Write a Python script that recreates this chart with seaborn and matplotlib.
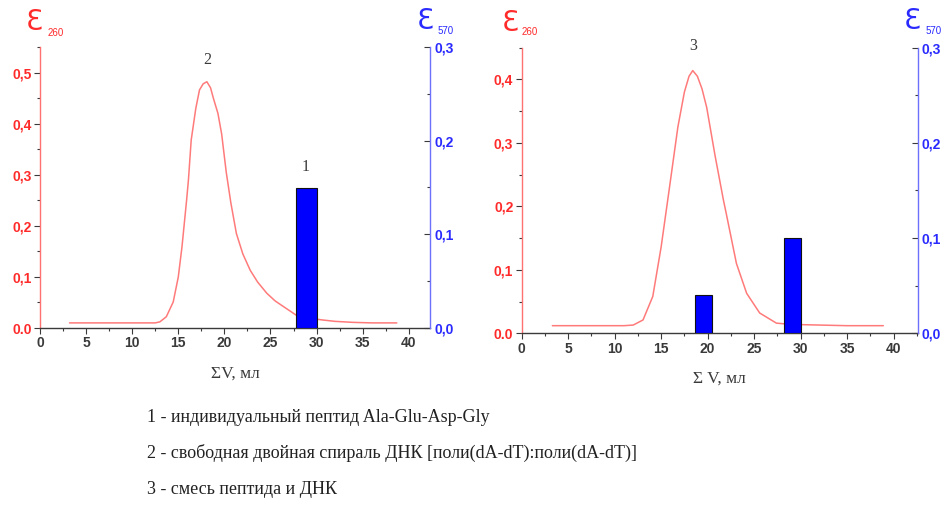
import numpy as np
import pandas as pd
import matplotlib
matplotlib.use("Agg")
import matplotlib.pyplot as plt
import seaborn as sns
from matplotlib.ticker import MultipleLocator, FixedLocator, FixedFormatter

# ---------------- data ----------------
# Panel A: free DNA double helix (curve 2) and individual peptide (bar 1)
vol_a = [3.2, 10.0, 12.5, 13.0, 13.7, 14.45, 15.0, 15.4, 15.9, 16.1, 16.4, 16.9,
         17.3, 17.7, 18.1, 18.5, 18.8, 19.3, 19.7, 20.2, 20.7, 21.3, 22.0, 22.8,
         23.6, 24.6, 25.5, 26.4, 27.8, 29.0, 30.5, 32.0, 34.0, 36.0, 38.7]
e260_a = [0.010, 0.010, 0.010, 0.012, 0.022, 0.051, 0.100, 0.159, 0.250, 0.290,
          0.368, 0.430, 0.466, 0.478, 0.482, 0.470, 0.450, 0.420, 0.380, 0.305,
          0.245, 0.185, 0.145, 0.113, 0.090, 0.068, 0.053, 0.042, 0.025, 0.020,
          0.016, 0.013, 0.011, 0.010, 0.010]
bar_vol_a = [28.9]
bar_e570_a = [0.15]

# Panel B: mixture of peptide and DNA (curve 3) with two peptide fractions
vol_b = [3.3, 10.0, 11.0, 12.0, 13.05, 14.1, 15.0, 15.9, 16.8, 17.5, 18.0, 18.4,
         18.9, 19.4, 19.9, 20.8, 21.7, 22.0, 23.1, 24.2, 25.6, 27.4, 29.0, 32.0,
         35.0, 38.9]
e260_b = [0.012, 0.012, 0.012, 0.013, 0.021, 0.058, 0.136, 0.230, 0.325, 0.380,
          0.405, 0.414, 0.405, 0.385, 0.356, 0.280, 0.210, 0.189, 0.110, 0.063,
          0.032, 0.016, 0.014, 0.013, 0.012, 0.012]
bar_vol_b = [19.55, 29.1]
bar_e570_b = [0.04, 0.10]

x_ticks = [0, 5, 10, 15, 20, 25, 30, 35, 40]
captions = [
    "1 - индивидуальный пептид Ala-Glu-Asp-Gly",
    "2 - свободная двойная спираль ДНК [поли(dA-dT):поли(dA-dT)]",
    "3 - смесь пептида и ДНК",
]

# ---------------- style ----------------
sns.set_theme(style="white")
plt.rcParams["font.family"] = ["Liberation Sans", "DejaVu Sans"]

W, H = 947, 514
fig = plt.figure(figsize=(W / 100, H / 100), dpi=100)


def px(x, y):
    return x / W, 1 - y / H


RED_LINE = "#ff7a7a"
RED_TXT = "#ff2a2a"
RED_SPINE = "#ff7070"
BLUE_TXT = "#2a2aff"
BLUE_SPINE = "#7070ff"
GRAY = "#3a3a3a"
TICKSIZE = 10


def fmt(v, zero_dot=False):
    s = f"{v:.1f}"
    if zero_dot and abs(v) < 1e-9:
        return s
    return s.replace(".", ",")


def make_panel(rect, vol, e260, bvol, be570, bwidth, ylim_left, left_ticks,
               xmax, xlabel):
    ax = fig.add_axes(rect)
    df = pd.DataFrame({"V": vol, "E260": e260})
    sns.lineplot(data=df, x="V", y="E260", ax=ax, color=RED_LINE, lw=1.1)
    ax.set_xlim(0, xmax)
    ax.set_ylim(0, ylim_left)
    ax.set_ylabel("")
    ax.set_xlabel(xlabel, family=["Liberation Serif"], fontsize=12.5,
                  color=GRAY, labelpad=11)
    ax.xaxis.set_major_locator(FixedLocator(x_ticks))
    ax.xaxis.set_minor_locator(MultipleLocator(2.5))
    ax.yaxis.set_major_locator(FixedLocator(left_ticks))
    ax.yaxis.set_major_formatter(
        FixedFormatter([fmt(v, zero_dot=True) for v in left_ticks]))
    ax.yaxis.set_minor_locator(MultipleLocator(0.05))
    for s in ["top", "right"]:
        ax.spines[s].set_visible(False)
    ax.spines["left"].set_color(RED_SPINE)
    ax.spines["bottom"].set_color(GRAY)
    ax.spines["left"].set_linewidth(1.0)
    ax.spines["bottom"].set_linewidth(1.0)
    ax.tick_params(axis="x", which="major", direction="out", length=4,
                   width=0.8, color=GRAY, labelsize=TICKSIZE, labelcolor=GRAY,
                   pad=2, bottom=True)
    ax.tick_params(axis="x", which="minor", direction="out", length=2.5,
                   width=0.8, color=GRAY, bottom=True)
    ax.tick_params(axis="y", which="major", direction="out", length=4,
                   width=0.8, color=GRAY, labelsize=TICKSIZE,
                   labelcolor=RED_TXT, pad=2, left=True)
    ax.tick_params(axis="y", which="minor", direction="out", length=2.5,
                   width=0.8, color=GRAY, left=True)
    for lab in ax.get_yticklabels() + ax.get_xticklabels():
        lab.set_fontweight("bold")
    ax.grid(False)

    ax2 = ax.twinx()
    ax2.bar(bvol, be570, width=bwidth, color="#0000ff", edgecolor="#111111",
            linewidth=0.8, zorder=3)
    ax2.set_ylim(0, 0.3)
    ax2.set_xlim(0, xmax)
    ax2.yaxis.set_major_locator(FixedLocator([0.0, 0.1, 0.2, 0.3]))
    ax2.yaxis.set_major_formatter(
        FixedFormatter([fmt(v) for v in [0.0, 0.1, 0.2, 0.3]]))
    ax2.yaxis.set_minor_locator(MultipleLocator(0.05))
    for s in ["top", "left", "bottom"]:
        ax2.spines[s].set_visible(False)
    ax2.spines["right"].set_color(BLUE_SPINE)
    ax2.spines["right"].set_linewidth(1.0)
    ax2.tick_params(axis="y", which="major", direction="in", length=4,
                    width=0.8, color=GRAY, labelsize=TICKSIZE,
                    labelcolor=BLUE_TXT, pad=3, right=True)
    ax2.tick_params(axis="y", which="minor", direction="in", length=2.5,
                    width=0.8, color=GRAY, right=True)
    for lab in ax2.get_yticklabels():
        lab.set_fontweight("bold")
    ax2.grid(False)
    return ax, ax2


# Panel A
axA, axA2 = make_panel([40 / W, 1 - 328 / H, 390 / W, 281 / H],
                       vol_a, e260_a, bar_vol_a, bar_e570_a, 2.3, 0.55,
                       [0.0, 0.1, 0.2, 0.3, 0.4, 0.5], 42.3, "ΣV, мл")
axA.text(18.1, 0.525, "2", ha="center", va="center", fontsize=11.5,
         family=["Liberation Serif"], color=GRAY)
axA.text(28.8, 0.315, "1", ha="center", va="center", fontsize=11.5,
         family=["Liberation Serif"], color=GRAY)

# Panel B
axB, axB2 = make_panel([521.7 / W, 1 - 333.3 / H, 396 / W, 285.6 / H],
                       vol_b, e260_b, bar_vol_b, bar_e570_b, 1.8, 0.45,
                       [0.0, 0.1, 0.2, 0.3, 0.4], 42.6, "Σ V, мл")
axB.text(18.4, 0.452, "3", ha="center", va="center", fontsize=11.5,
         family=["Liberation Serif"], color=GRAY)


# epsilon axis titles
def eps(xe, ye, xs, ys, sub, color):
    fig.text(*px(xe, ye), "Ɛ", fontsize=20, color=color, ha="center",
             va="center", family=["DejaVu Sans"])
    fig.text(*px(xs, ys), sub, fontsize=7, color=color, ha="center",
             va="center")


eps(34, 22, 56, 33, "260", RED_TXT)
eps(425, 21, 446, 31, "570", BLUE_TXT)
eps(510, 23, 530, 32, "260", RED_TXT)
eps(912, 21, 934, 31, "570", BLUE_TXT)

# captions
for txt, yy in zip(captions, [417, 453, 490]):
    fig.text(*px(147, yy), txt, fontsize=13, family=["Liberation Serif"],
             color="#222222", ha="left", va="center")

fig.savefig("out.png", dpi=100)
